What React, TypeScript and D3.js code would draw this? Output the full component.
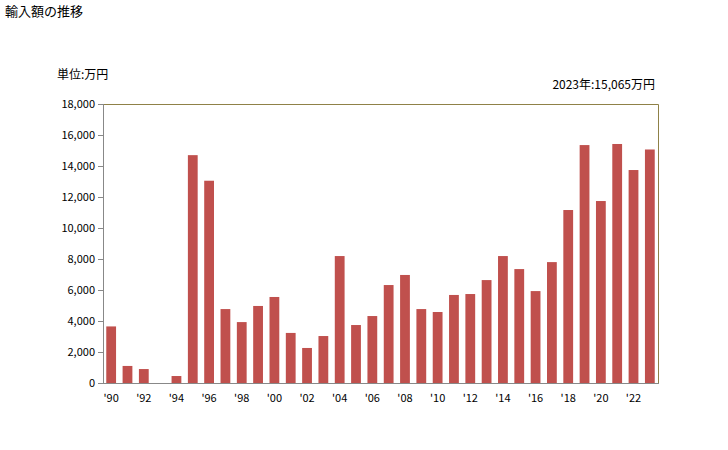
import React from "react";
import * as d3 from "d3";

// data
const years = d3.range(1990, 2024);
const values = [
  3650, 1100, 900, 0, 450, 14700, 13050, 4770, 3930, 4970, 5550, 3230, 2260,
  3030, 8190, 3740, 4320, 6320, 6970, 4770, 4580, 5680, 5740, 6640, 8190, 7350,
  5930, 7800, 11160, 15350, 11740, 15420, 13740, 15065,
];
const yTicks = [0, 2000, 4000, 6000, 8000, 10000, 12000, 14000, 16000, 18000];
const title = "輸入額の推移";
const unitLabel = "単位:万円";
const latestLabel = "2023年:15,065万円";

const font = "'Noto Sans CJK JP', 'DejaVu Sans', sans-serif";

const App = () => {
  const width = 728;
  const height = 450;
  const margin = { top: 104, right: 70, bottom: 67, left: 103 };
  const innerW = width - margin.left - margin.right;
  const innerH = height - margin.top - margin.bottom;

  const x = d3
    .scaleBand<number>()
    .domain(years)
    .range([0, innerW])
    .paddingInner(0.4)
    .paddingOuter(0.2);
  const y = d3.scaleLinear().domain([0, 18000]).range([innerH, 0]);
  const fmt = d3.format(",");

  return (
    <svg
      width={width}
      height={height}
      style={{ position: "absolute", left: 0, top: 0, background: "#fff" }}
      fontFamily={font}
    >
      <text x={5} y={16} fontSize={13} fill="#000">
        {title}
      </text>
      <text x={57} y={79} fontSize={12} fill="#000">
        {unitLabel}
      </text>
      <text x={655} y={89} fontSize={12} fill="#000" textAnchor="end">
        {latestLabel}
      </text>
      <g transform={`translate(${margin.left},${margin.top})`}>
        {/* plot border top/right */}
        <path
          d={`M0,0.5H${innerW + 0.5}V${innerH}`}
          fill="none"
          stroke="#8f8147"
          strokeWidth={1}
        />
        {values.map((v, i) => (
          <rect
            key={years[i]}
            x={x(years[i])}
            y={y(v)}
            width={x.bandwidth()}
            height={innerH - y(v)}
            fill="#c0504d"
          />
        ))}
        {/* y axis */}
        <line x1={0.5} x2={0.5} y1={0} y2={innerH} stroke="#888" />
        {yTicks.map((t) => (
          <g key={t} transform={`translate(0,${Math.round(y(t)) + 0.5})`}>
            <line x1={-5} x2={0} stroke="#888" />
            <text
              x={-8}
              dy="0.35em"
              fontSize={11}
              textAnchor="end"
              fill="#000"
            >
              {fmt(t)}
            </text>
          </g>
        ))}
        {/* x axis */}
        <line x1={0} x2={innerW + 1} y1={innerH + 0.5} y2={innerH + 0.5} stroke="#888" />
        {years
          .filter((yr) => yr % 2 === 0)
          .map((yr) => (
            <text
              key={yr}
              x={(x(yr) ?? 0) + x.bandwidth() / 2}
              y={innerH + 19}
              fontSize={11}
              textAnchor="middle"
              fill="#000"
            >
              {"'" + String(yr).slice(2)}
            </text>
          ))}
      </g>
    </svg>
  );
};

export default App;
